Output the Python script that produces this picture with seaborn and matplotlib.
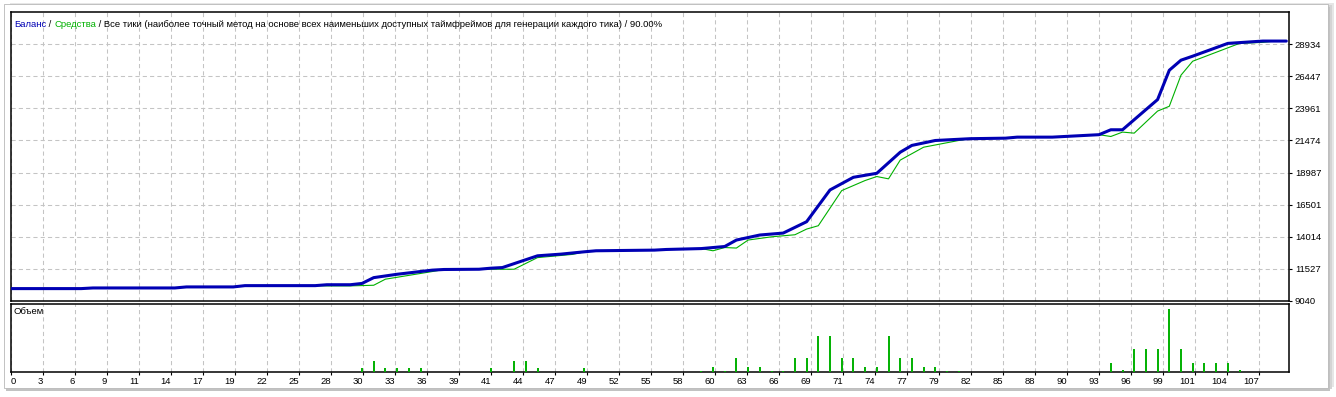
import matplotlib
matplotlib.use("Agg")
import matplotlib.pyplot as plt
from matplotlib.patches import Rectangle
import pandas as pd
import seaborn as sns

# ---------------- data ----------------
bal_t = [0, 6, 7, 14, 15, 19, 20, 26, 27, 29, 30, 31, 33, 36, 37, 40, 41, 42, 45, 47,
         49, 50, 55, 56, 59, 61, 62, 64, 66, 68, 70, 72, 74, 76, 77, 79, 82, 85, 86, 89,
         93, 94, 95, 98, 99, 100, 101, 104, 107, 109]
bal_v = [10000, 10000, 10050, 10050, 10130, 10130, 10230, 10230, 10300, 10300, 10400,
         10850, 11110, 11430, 11480, 11500, 11580, 11630, 12540, 12670, 12850, 12930,
         12980, 13030, 13100, 13260, 13760, 14150, 14300, 15180, 17640, 18620, 18930,
         20560, 21090, 21470, 21610, 21650, 21730, 21730, 21920, 22300, 22300, 24640,
         26910, 27690, 28000, 28990, 29170, 29170]

eq_t = [0, 6, 7, 14, 15, 19, 20, 26, 27, 29, 31, 32, 36, 37, 40, 43, 45, 48, 49, 50,
        55, 56, 59, 60, 61, 62, 63, 65, 67, 68, 69, 71, 73, 74, 75, 76, 78, 81, 82, 85,
        86, 89, 93, 94, 95, 96, 98, 99, 100, 101, 105, 107, 108, 109]
eq_v = [10000, 10000, 10050, 10050, 10130, 10130, 10230, 10230, 10210, 10210, 10260,
        10730, 11320, 11480, 11500, 11500, 12400, 12650, 12850, 12930, 12980, 13030,
        13100, 12930, 13180, 13140, 13760, 14010, 14170, 14610, 14870, 17590, 18370,
        18680, 18500, 19950, 20950, 21470, 21610, 21650, 21730, 21730, 21920, 21780,
        22120, 22040, 23750, 24120, 26530, 27610, 28990, 29070, 29170, 29170]

vol_t = [30, 31, 32, 33, 34, 35, 41, 43, 44, 45, 49, 59, 60, 61, 62, 63, 64, 65, 66, 67,
         68, 69, 70, 71, 72, 73, 74, 75, 76, 77, 78, 79, 80, 81, 94, 95, 96, 97, 98, 99,
         100, 101, 102, 103, 104, 105]
vol_lots = [0.03, 0.09, 0.03, 0.03, 0.03, 0.03, 0.03, 0.09, 0.09, 0.03, 0.03, 0.01, 0.04,
            0.01, 0.11, 0.04, 0.04, 0.01, 0.01, 0.11, 0.11, 0.29, 0.29, 0.11, 0.11, 0.04,
            0.04, 0.29, 0.11, 0.11, 0.04, 0.04, 0.01, 0.01, 0.07, 0.02, 0.19, 0.19, 0.19,
            0.51, 0.19, 0.07, 0.07, 0.07, 0.07, 0.02]

y_tick_labels = [9040, 11527, 14014, 16501, 18987, 21474, 23961, 26447, 28934]
x_tick_labels = [0, 3, 6, 9, 11, 14, 17, 19, 22, 25, 28, 30, 33, 36, 39, 41, 44, 47, 49,
                 52, 55, 58, 60, 63, 66, 69, 71, 74, 77, 79, 82, 85, 88, 90, 93, 96, 99,
                 101, 104, 107]

title_parts = ["Баланс", " / ", "Средства",
               " / Все тики (наиболее точный метод на основе всех наименьших доступных "
               "таймфреймов для генерации каждого тика) / 90.00%"]
volume_label = "Объем"

# ---------------- style ----------------
BLUE = "#0000b4"
GREEN = "#00b000"
GRID = "#c4c4c4"
FS = 6.8

sns.set_theme(style="white")
plt.rcParams['font.family'] = ['Liberation Sans', 'DejaVu Sans']
plt.rcParams['axes.linewidth'] = 1.1

W, H = 1336, 397
fig = plt.figure(figsize=(W / 100, H / 100), dpi=100, facecolor="white")


def box(x0, y0, x1, y1):
    return [x0 / W, 1 - y1 / H, (x1 - x0) / W, (y1 - y0) / H]


# window frame + drop shadow (behind the axes)
for off, col in [(8, "#e6e6e6"), (6, "#d4d4d4"), (4, "#c2c2c2")]:
    fig.patches.append(Rectangle((4 + off - 2, 4 + off - 2), 1324, 384,
                                 transform=None, facecolor=col, edgecolor="none", zorder=-3))
fig.patches.append(Rectangle((4, H - 388), 1324, 384, transform=None,
                             facecolor="white", edgecolor="#b8b8b8", linewidth=0.6, zorder=-2))

PX_PER_TRADE = 11.70
x_max = (1289 - 11) / PX_PER_TRADE
tick_pos = [k * 32 / PX_PER_TRADE for k in range(len(x_tick_labels))]
ystep = (y_tick_labels[-1] - y_tick_labels[0]) / 8

ax = fig.add_axes(box(11, 12, 1289, 301))
axv = fig.add_axes(box(11, 303.5, 1289, 372))
for a in (ax, axv):
    a.set_facecolor("none")
    for s in a.spines.values():
        s.set_color("black")
        s.set_linewidth(1.1)
    a.set_xlim(0, x_max)
    a.set_xticks(tick_pos)
    a.grid(True, axis="x", color=GRID, linestyle=(0, (4, 3)), linewidth=0.75)
    a.set_axisbelow(True)

# balance & equity
df_bal = pd.DataFrame({"trade": bal_t, "value": bal_v})
df_eq = pd.DataFrame({"trade": eq_t, "value": eq_v})
sns.lineplot(data=df_eq, x="trade", y="value", ax=ax, color=GREEN, linewidth=0.8, zorder=3)
sns.lineplot(data=df_bal, x="trade", y="value", ax=ax, color=BLUE, linewidth=2.2, zorder=4)

ax.set_xlim(0, x_max)
ax.set_ylim(y_tick_labels[0], y_tick_labels[0] + 9 * ystep)
ax.set_yticks(y_tick_labels)
ax.set_yticklabels([str(v) for v in y_tick_labels])
ax.yaxis.tick_right()
ax.tick_params(axis="y", direction="out", length=2.2, width=0.8, pad=2,
               labelsize=FS, colors="black", right=True, left=False)
ax.tick_params(axis="x", length=0, labelbottom=False, bottom=False)
ax.grid(True, axis="y", color=GRID, linestyle=(0, (4, 3)), linewidth=0.75)
ax.set_xlabel("")
ax.set_ylabel("")

# volume bars
axv.vlines(vol_t, 0, vol_lots, color=GREEN, linewidth=1.4, zorder=3)
axv.set_ylim(0, 0.557)
axv.set_yticks([])
axv.set_xticklabels([str(v) for v in x_tick_labels])
axv.tick_params(axis="x", direction="out", length=2.2, width=0.8, pad=1.5,
                labelsize=FS, colors="black", bottom=True)
for i, lab in enumerate(axv.get_xticklabels()):
    lab.set_horizontalalignment("left" if i == 0 else "right")

# title pieces, chained one after another
colors = [BLUE, "black", GREEN, "black"]
prev = fig.text(14 / W, 1 - 29 / H, title_parts[0], color=colors[0], fontsize=FS,
                ha="left", va="bottom")
for part, c in zip(title_parts[1:], colors[1:]):
    prev = ax.annotate(part, xy=(1, 0), xycoords=prev, ha="left", va="bottom",
                       color=c, fontsize=FS, annotation_clip=False)

fig.text(14 / W, 1 - 312 / H, volume_label, fontsize=FS, color="black",
         ha="left", va="center")

fig.savefig("out.png", dpi=100, facecolor=fig.get_facecolor())
